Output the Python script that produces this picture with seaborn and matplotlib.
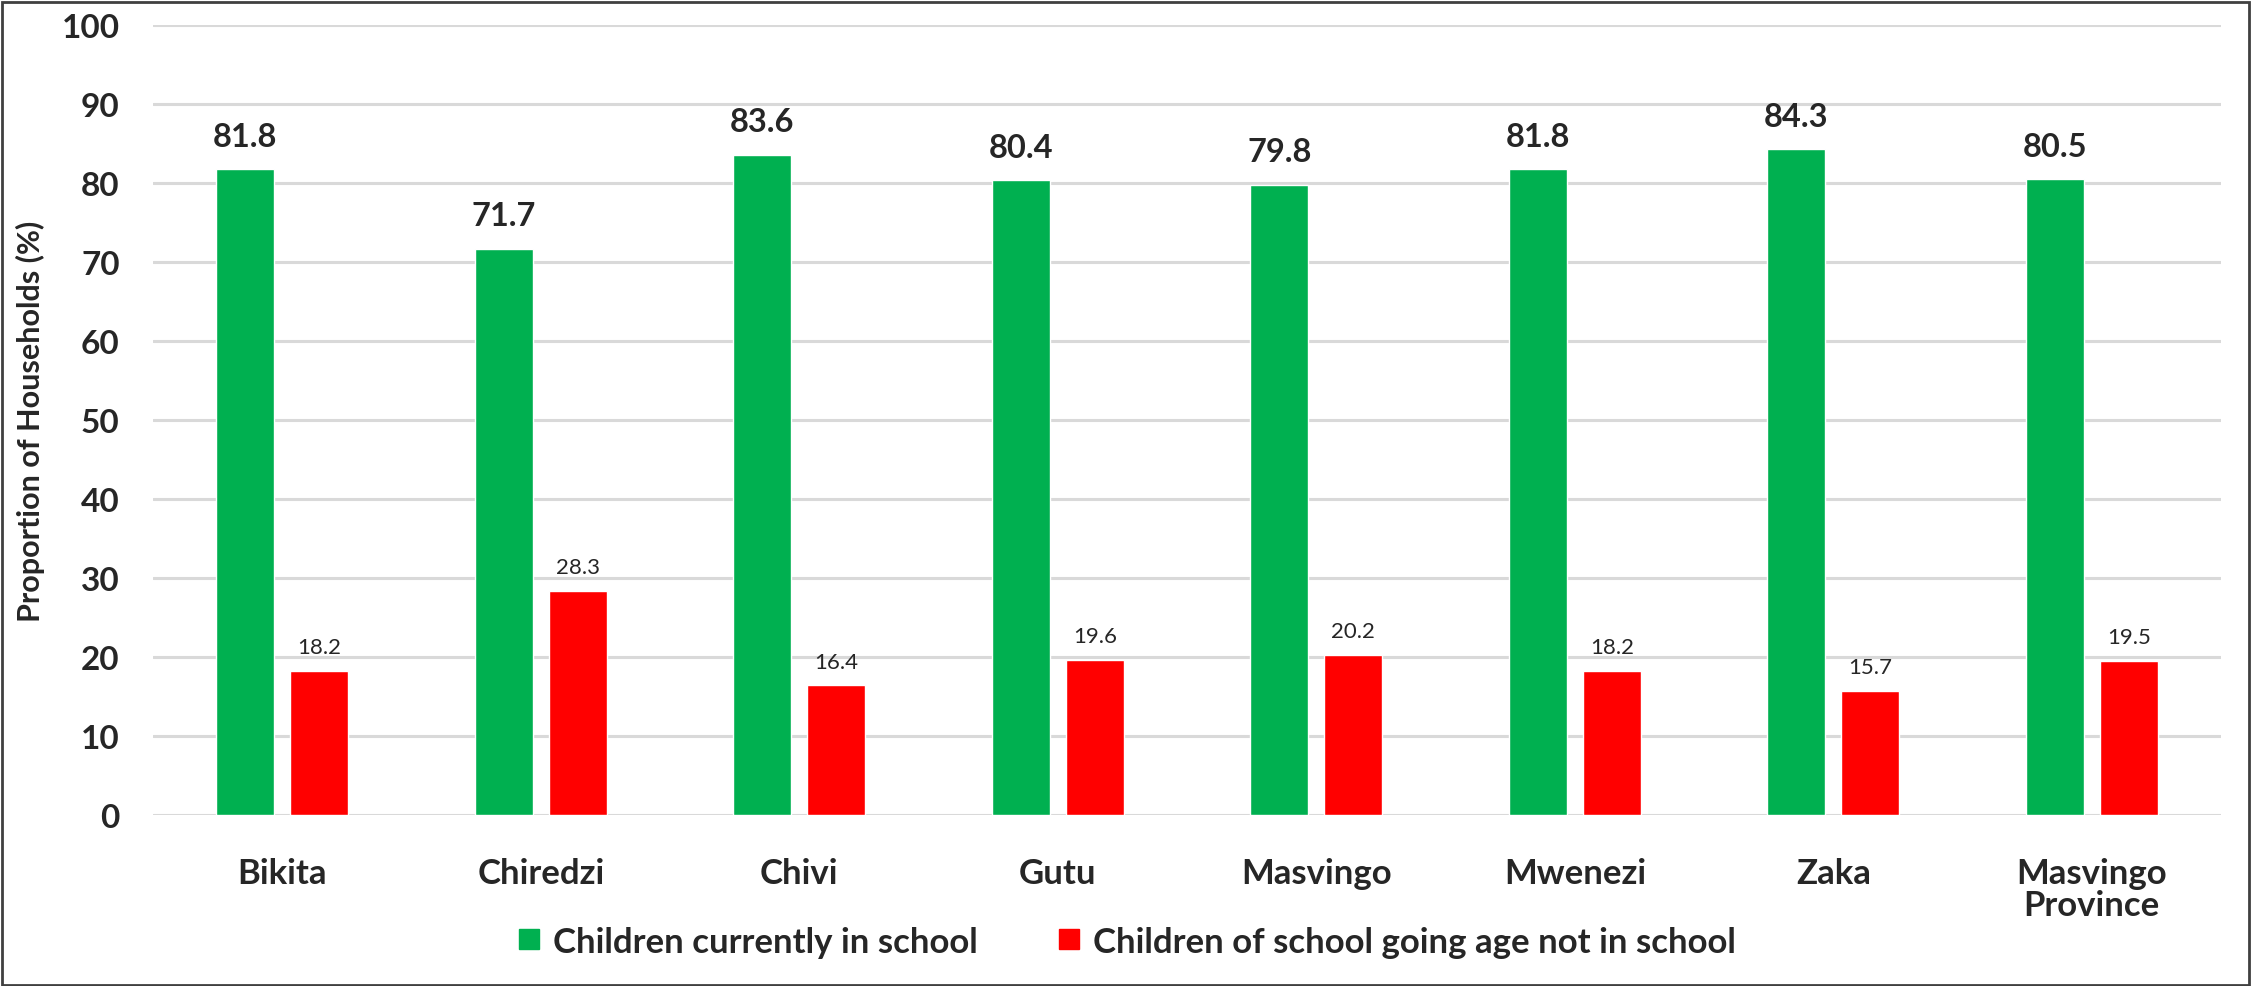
import matplotlib
matplotlib.use("Agg")
import matplotlib.pyplot as plt
import seaborn as sns
import pandas as pd
from matplotlib.patches import Rectangle
from matplotlib.lines import Line2D

districts = ["Bikita", "Chiredzi", "Chivi", "Gutu", "Masvingo", "Mwenezi", "Zaka", "Masvingo\nProvince"]
in_school = [81.8, 71.7, 83.6, 80.4, 79.8, 81.8, 84.3, 80.5]
not_in_school = [18.2, 28.3, 16.4, 19.6, 20.2, 18.2, 15.7, 19.5]
series_names = ["Children currently in school", "Children of school going age not in school"]
colors = ["#00B050", "#FF0000"]
yticks = [0, 10, 20, 30, 40, 50, 60, 70, 80, 90, 100]

df = pd.DataFrame({
    "District": districts * 2,
    "Value": in_school + not_in_school,
    "Series": [series_names[0]] * len(districts) + [series_names[1]] * len(districts),
})

sns.set_theme(style="white")
plt.rcParams["font.family"] = ["Lato", "DejaVu Sans"]

fig = plt.figure(figsize=(22.51, 9.87), dpi=100)
ax = fig.add_axes([0.068, 0.1733, 0.9187, 0.8004])

sns.barplot(data=df, x="District", y="Value", hue="Series", order=districts,
            hue_order=series_names, palette=colors, width=0.573, gap=0.216,
            saturation=1, ax=ax, legend=True)

ax.set_ylim(0, 100)
ax.set_yticks(yticks)
ax.set_xlim(-0.5, len(districts) - 0.5)
ax.yaxis.grid(True, color="#D9D9D9", linewidth=2.2)
ax.set_axisbelow(True)
for s in ax.spines.values():
    s.set_visible(False)
ax.tick_params(axis="both", length=0)
ax.tick_params(axis="y", pad=24, labelsize=24)
ax.tick_params(axis="x", pad=30, labelsize=25)
for lab in ax.get_yticklabels():
    lab.set_fontweight("bold")
for lab in ax.get_xticklabels():
    lab.set_fontweight("bold")
    lab.set_linespacing(1.0)
ax.set_xlabel("")
ax.set_ylabel("Proportion of Households (%)", fontsize=22, fontweight="bold", labelpad=12)

ax.bar_label(ax.containers[0], labels=[f"{v:.1f}" for v in in_school],
             padding=13, fontsize=23.5, fontweight="bold")
ax.bar_label(ax.containers[1], labels=[f"{v:.1f}" for v in not_in_school],
             padding=10, fontsize=16)

ax.legend_.remove()
h = [Line2D([0], [0], marker="s", linestyle="", markersize=14, color=c) for c in colors]
fig.legend(h, series_names, loc="center", bbox_to_anchor=(0.5, 0.045), ncol=2,
           frameon=False, handlelength=0.8, handletextpad=0.3, columnspacing=2.2,
           prop={"weight": "bold", "size": 25})

fig.patches.append(Rectangle((0.001, 0.001), 0.998, 0.996, transform=fig.transFigure,
                             fill=False, edgecolor="#404040", linewidth=2))

fig.savefig("out.png", dpi=100)
